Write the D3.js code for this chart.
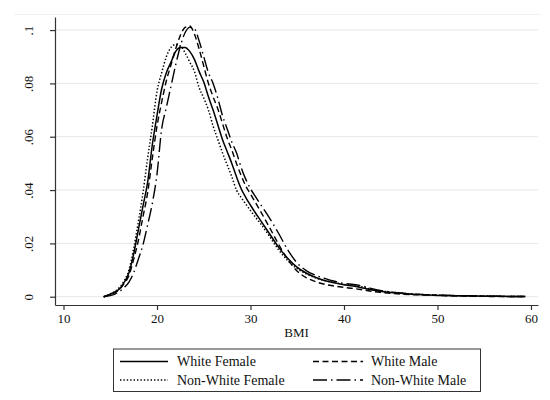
<!DOCTYPE html>
<html>
<head>
<meta charset="utf-8">
<script src="https://cdn.jsdelivr.net/npm/d3@7"></script>
<style>
  html, body { margin: 0; padding: 0; background: #fff; }
  svg { display: block; font-family: "Liberation Serif", "Times New Roman", serif; }
</style>
</head>
<body>
<svg id="chart" width="550" height="400"></svg>
<script>
// BMI grid the densities were read at
const bmi = [14.3, 15, 15.5, 16, 16.5, 17, 17.5, 18, 18.5, 19, 19.5, 20, 20.5, 21, 21.5,
  22, 22.5, 23, 23.5, 24, 24.5, 25, 25.5, 26, 26.5, 27, 27.5, 28, 28.5, 29, 29.5, 30,
  30.5, 31, 32, 33, 34, 35, 36, 37, 38, 39, 40, 41, 42, 43, 44, 45, 46, 47, 48, 50,
  52, 54, 56, 58, 59.4];

const whiteFemale = [0, 0.001, 0.0018, 0.003, 0.0055, 0.009, 0.016, 0.025, 0.034, 0.043,
  0.057, 0.068, 0.078, 0.084, 0.088, 0.092, 0.0935, 0.0935, 0.092, 0.089, 0.0845, 0.0805,
  0.075, 0.07, 0.0645, 0.059, 0.0545, 0.05, 0.045, 0.0405, 0.0372, 0.0343, 0.0316, 0.029,
  0.0238, 0.0186, 0.0143, 0.011, 0.0088, 0.0072, 0.006, 0.0052, 0.0045, 0.004, 0.0033,
  0.0025, 0.002, 0.0016, 0.0013, 0.001, 0.0008, 0.0005, 0.0004, 0.0003, 0.0002, 0.0001,
  0.0001];

const whiteMale = [0, 0.0008, 0.0015, 0.0028, 0.005, 0.008, 0.014, 0.021, 0.03, 0.039,
  0.052, 0.064, 0.073, 0.081, 0.087, 0.093, 0.098, 0.101, 0.1015, 0.0985, 0.093, 0.0865,
  0.08, 0.075, 0.0705, 0.065, 0.0595, 0.055, 0.05, 0.0455, 0.0415, 0.0385, 0.0355, 0.0325,
  0.0262, 0.0197, 0.0139, 0.0096, 0.0071, 0.0056, 0.0046, 0.004, 0.0035, 0.0031, 0.0026,
  0.002, 0.0016, 0.0013, 0.001, 0.0008, 0.0007, 0.0005, 0.0003, 0.0002, 0.0001, 0.0001,
  0.0001];

const nonWhiteFemale = [0, 0.001, 0.002, 0.0035, 0.006, 0.01, 0.018, 0.028, 0.039, 0.052,
  0.064, 0.077, 0.084, 0.09, 0.0935, 0.0946, 0.094, 0.0915, 0.088, 0.0845, 0.0785, 0.0745,
  0.07, 0.064, 0.059, 0.054, 0.0495, 0.045, 0.04, 0.0372, 0.0347, 0.0323, 0.03, 0.0278,
  0.0228, 0.0176, 0.0135, 0.0105, 0.0085, 0.007, 0.006, 0.0053, 0.0046, 0.0043, 0.0036,
  0.0027, 0.0021, 0.0018, 0.0014, 0.0011, 0.0009, 0.0006, 0.0004, 0.0003, 0.0002, 0.0001,
  0.0001];

const nonWhiteMale = [0, 0.0004, 0.001, 0.002, 0.0035, 0.0055, 0.009, 0.014, 0.0195, 0.027,
  0.035, 0.046, 0.063, 0.071, 0.079, 0.087, 0.094, 0.099, 0.101, 0.1005, 0.096, 0.09,
  0.084, 0.08, 0.0745, 0.068, 0.063, 0.058, 0.054, 0.0485, 0.044, 0.0405, 0.0377, 0.035,
  0.0297, 0.0238, 0.0175, 0.0126, 0.0097, 0.008, 0.0068, 0.0058, 0.005, 0.0046, 0.004,
  0.003, 0.0023, 0.0018, 0.0014, 0.0011, 0.0009, 0.0006, 0.0004, 0.0003, 0.0002, 0.0001,
  0.0001];

const xTicks = [10, 20, 30, 40, 50, 60];
const yTicks = [0, 0.02, 0.04, 0.06, 0.08, 0.1];
const yTickLabels = ["0", ".02", ".04", ".06", ".08", ".1"];
const seriesNames = ["White Female", "White Male", "Non-White Female", "Non-White Male"];

const svg = d3.select("#chart");

// Plot region bounds
const plot = { left: 55, right: 538, top: 17, bottom: 305 };

const x = d3.scaleLinear().domain([9.09, 60.75]).range([plot.left, plot.right]);
const y = d3.scaleLinear().domain([-0.0031, 0.1049]).range([plot.bottom, plot.top]);

// Line styles per series, same order as seriesNames
const styles = [
  { dash: null, width: 1.5 },
  { dash: "6,3.5", width: 1.4 },
  { dash: "1.4,2", width: 1.5 },
  { dash: "14,4,1.5,4", width: 1.4 },
];
const series = [whiteFemale, whiteMale, nonWhiteFemale, nonWhiteMale];

// Faint outer frame line at the top
svg.append("line")
  .attr("x1", 14).attr("x2", 541)
  .attr("y1", 14.5).attr("y2", 14.5)
  .attr("stroke", "#f2f2f2").attr("stroke-width", 1);

// Horizontal gridlines
svg.append("g")
  .attr("class", "grid")
  .selectAll("line")
  .data(yTicks)
  .enter()
  .append("line")
  .attr("x1", plot.left)
  .attr("x2", plot.right)
  .attr("y1", (d) => y(d))
  .attr("y2", (d) => y(d))
  .attr("stroke", "#e6e6e6")
  .attr("stroke-width", 1);

// Y axis
const yAxis = svg.append("g")
  .attr("transform", `translate(${plot.left},0)`)
  .call(d3.axisLeft(y).tickValues(yTicks).tickSize(5).tickSizeOuter(0)
    .tickFormat((d, i) => yTickLabels[i]));

yAxis.select(".domain").attr("stroke", "#333").attr("stroke-width", 1.2);
yAxis.selectAll(".tick line").attr("stroke", "#333").attr("stroke-width", 1.2);
// rotated labels, centred on their tick
yAxis.selectAll(".tick text")
  .attr("font-size", "13px")
  .attr("font-family", "Liberation Serif, serif")
  .attr("fill", "#111")
  .attr("text-anchor", "middle")
  .attr("transform", "rotate(-90)")
  .attr("x", 0)
  .attr("y", -22)
  .attr("dy", 0);

// X axis
const xAxis = svg.append("g")
  .attr("transform", `translate(0,${plot.bottom})`)
  .call(d3.axisBottom(x).tickValues(xTicks).tickSize(5).tickSizeOuter(0));

xAxis.select(".domain").attr("stroke", "#333").attr("stroke-width", 1.2);
xAxis.selectAll(".tick line").attr("stroke", "#333").attr("stroke-width", 1.2);
xAxis.selectAll(".tick text")
  .attr("font-size", "13px")
  .attr("font-family", "Liberation Serif, serif")
  .attr("fill", "#111")
  .attr("y", 9)
  .attr("dy", "0.71em");

// Axis title
svg.append("text")
  .attr("x", (plot.left + plot.right) / 2)
  .attr("y", 337)
  .attr("text-anchor", "middle")
  .attr("font-size", "13px")
  .attr("fill", "#111")
  .text("BMI");

// Density lines
const line = d3.line()
  .x((d) => x(d[0]))
  .y((d) => y(d[1]))
  .curve(d3.curveMonotoneX);

svg.append("g")
  .attr("class", "lines")
  .selectAll("path")
  .data(series)
  .enter()
  .append("path")
  .attr("d", (vals) => line(bmi.map((b, i) => [b, vals[i]])))
  .attr("fill", "none")
  .attr("stroke", "#000")
  .attr("stroke-width", (d, i) => styles[i].width)
  .attr("stroke-dasharray", (d, i) => styles[i].dash);

// Legend box
const legend = svg.append("g").attr("class", "legend");
legend.append("rect")
  .attr("x", 113.5).attr("y", 349)
  .attr("width", 367).attr("height", 42.5)
  .attr("fill", "#fff")
  .attr("stroke", "#333")
  .attr("stroke-width", 1);

// two columns, two rows
const legendCols = [{ x1: 120, x2: 168, tx: 177 }, { x1: 313, x2: 363, tx: 371 }];
const legendRows = [361.5, 380];

const item = legend.selectAll(".item")
  .data(seriesNames)
  .enter()
  .append("g")
  .attr("class", "item")
  .attr("transform", (d, i) =>
    `translate(${legendCols[i % 2].x1},${legendRows[Math.floor(i / 2)]})`);

item.append("line")
  .attr("x1", 0)
  .attr("x2", (d, i) => legendCols[i % 2].x2 - legendCols[i % 2].x1)
  .attr("y1", 0).attr("y2", 0)
  .attr("stroke", "#000")
  .attr("stroke-width", (d, i) => styles[i].width)
  .attr("stroke-dasharray", (d, i) => styles[i].dash);

item.append("text")
  .attr("x", (d, i) => legendCols[i % 2].tx - legendCols[i % 2].x1)
  .attr("y", 0)
  .attr("dy", "0.35em")
  .attr("font-size", "14px")
  .attr("fill", "#111")
  .text((d) => d);
</script>
</body>
</html>
